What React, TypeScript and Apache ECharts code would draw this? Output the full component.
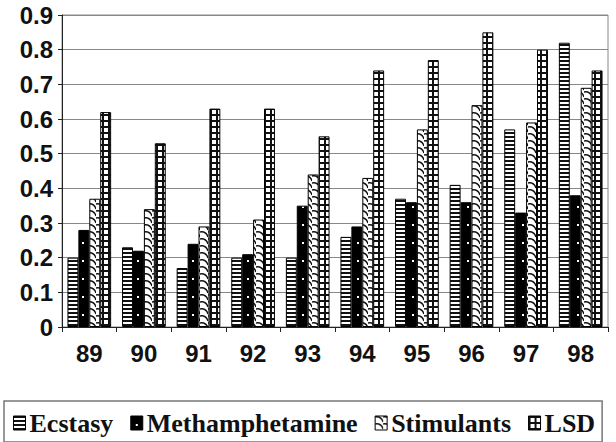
import React, { useEffect, useRef } from "react";
import * as echarts from "echarts";

const years = ["89", "90", "91", "92", "93", "94", "95", "96", "97", "98"];
const ecstasy = [0.2, 0.23, 0.17, 0.2, 0.2, 0.26, 0.37, 0.41, 0.57, 0.82];
const methamphetamine = [0.28, 0.22, 0.24, 0.21, 0.35, 0.29, 0.36, 0.36, 0.33, 0.38];
const stimulants = [0.37, 0.34, 0.29, 0.31, 0.44, 0.43, 0.57, 0.64, 0.59, 0.69];
const lsd = [0.62, 0.53, 0.63, 0.63, 0.55, 0.74, 0.77, 0.85, 0.8, 0.74];
const seriesNames = ["Ecstasy", "Methamphetamine", "Stimulants", "LSD"];

// Builds a repeating fill from a small canvas tile.
function makePattern(w: number, h: number, draw: (ctx: CanvasRenderingContext2D) => void) {
  const c = document.createElement("canvas");
  c.width = w;
  c.height = h;
  const ctx = c.getContext("2d")!;
  ctx.fillStyle = "#fff";
  ctx.fillRect(0, 0, w, h);
  draw(ctx);
  return { image: c.toDataURL(), repeat: "repeat", imageWidth: w, imageHeight: h } as any;
}

function buildPatterns() {
  const stripes = makePattern(4, 4, (ctx) => {
    ctx.fillStyle = "#111";
    ctx.fillRect(0, 0, 4, 2);
  });
  const dotted = makePattern(11, 18, (ctx) => {
    ctx.fillStyle = "#000";
    ctx.fillRect(0, 0, 11, 18);
    ctx.fillStyle = "#fff";
    ctx.fillRect(5, 8, 2, 2);
  });
  const waves = makePattern(8, 7, (ctx) => {
    ctx.strokeStyle = "#111";
    ctx.lineWidth = 1.5;
    ctx.beginPath();
    ctx.moveTo(0, 1);
    ctx.quadraticCurveTo(6, 0, 8, 6);
    ctx.stroke();
  });
  const grid = makePattern(6, 6, (ctx) => {
    ctx.fillStyle = "#111";
    ctx.fillRect(0, 0, 6, 2);
    ctx.fillRect(0, 0, 2, 6);
  });
  return [stripes, dotted, waves, grid];
}

export default function App() {
  const ref = useRef<HTMLDivElement>(null);

  useEffect(() => {
    if (!ref.current) return;
    const chart = echarts.init(ref.current, null, { renderer: "svg" });
    const fills = buildPatterns();
    const values = [ecstasy, methamphetamine, stimulants, lsd];

    chart.setOption({
      animation: false,
      backgroundColor: "#fff",
      grid: {
        left: 62,
        right: 8,
        top: 15,
        bottom: 115,
        show: true,
        borderColor: "#888",
        borderWidth: 1,
      },
      legend: {
        data: seriesNames,
        left: 4,
        top: 401,
        padding: [9, 7, 6, 9],
        itemGap: 17,
        itemWidth: 12,
        itemHeight: 14,
        icon: "rect",
        borderColor: "#777",
        borderWidth: 1.5,
        textStyle: {
          fontFamily: "Liberation Serif",
          fontWeight: "bold",
          fontSize: 26,
          color: "#111",
          padding: [0, 0, 0, -1],
        },
        itemStyle: { borderColor: "#000", borderWidth: 1 },
      },
      xAxis: {
        type: "category",
        data: years,
        axisLine: { lineStyle: { color: "#222", width: 1 } },
        axisTick: { show: true, length: 5, lineStyle: { color: "#222" } },
        axisLabel: {
          margin: 14,
          fontFamily: "Liberation Sans",
          fontWeight: "bold",
          fontSize: 24,
          color: "#111",
        },
      },
      yAxis: {
        type: "value",
        min: 0,
        max: 0.9,
        interval: 0.1,
        axisLine: { show: true, lineStyle: { color: "#222", width: 1 } },
        axisTick: { show: true, length: 4, lineStyle: { color: "#222" } },
        splitLine: { lineStyle: { color: "#888", width: 1 } },
        axisLabel: {
          margin: 9,
          fontFamily: "Liberation Sans",
          fontWeight: "bold",
          fontSize: 24,
          color: "#111",
          formatter: (v: number) => (v === 0 ? "0" : v.toFixed(1)),
        },
      },
      series: seriesNames.map((name, i) => ({
        name,
        type: "bar",
        data: values[i],
        barGap: "0%",
        barCategoryGap: "20%",
        itemStyle: { color: fills[i], borderColor: "#000", borderWidth: 1 },
      })),
    });

    return () => chart.dispose();
  }, []);

  return (
    <div
      ref={ref}
      style={{ position: "fixed", left: 0, top: 0, width: 616, height: 442, background: "#fff" }}
    />
  );
}
